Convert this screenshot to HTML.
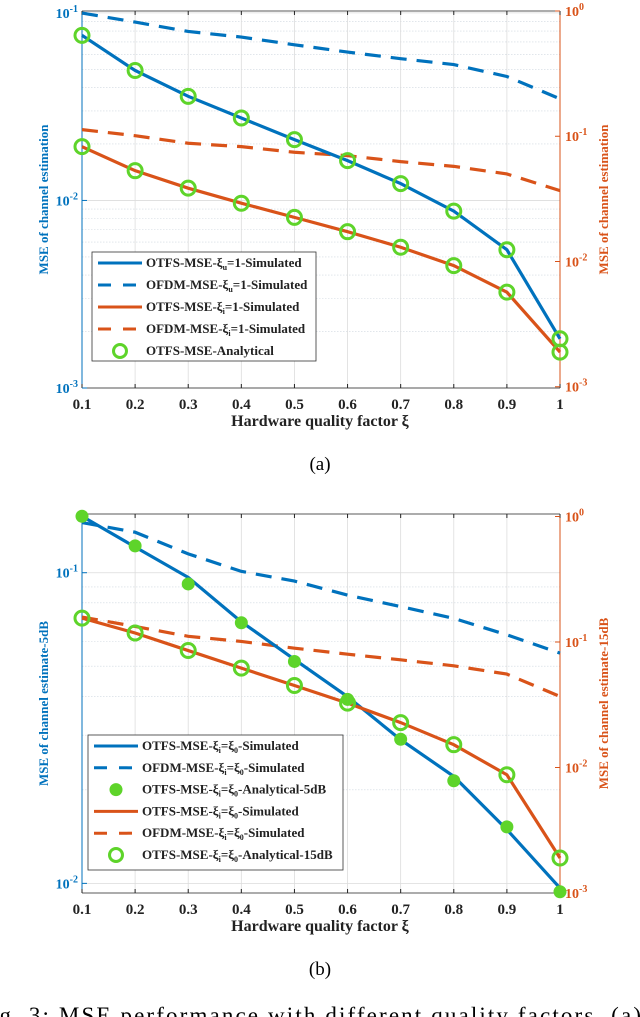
<!DOCTYPE html>
<html><head><meta charset="utf-8"><style>
body{margin:0;background:#fff;width:640px;height:1017px;overflow:hidden}
svg{display:block;font-family:"Liberation Serif",serif}
</style></head><body>
<svg id="s" width="640" height="1017" viewBox="0 0 640 1017">
<text x="320" y="470" font-size="19" text-anchor="middle">(a)</text>
<text x="320" y="975" font-size="19" text-anchor="middle">(b)</text>
<text x="-24" y="1023" font-size="23" textLength="665">Fig. 3: MSE performance with different quality factors. (a)</text>
</svg>
<script>
const xCats=[0.1,0.2,0.3,0.4,0.5,0.6,0.7,0.8,0.9,1];
const xTickLabels=["0.1","0.2","0.3","0.4","0.5","0.6","0.7","0.8","0.9","1"];
// chart (a)
const aOtfsU=[0.0759,0.0493,0.0359,0.0275,0.0211,0.0163,0.0123,0.00877,0.00546,0.00183];
const aOfdmU=[0.0998,0.0893,0.0796,0.0743,0.0676,0.0618,0.057,0.053,0.0458,0.0348];
const aOtfsI=[0.0826,0.0531,0.0385,0.0292,0.0225,0.0173,0.0130,0.00927,0.00569,0.00189];
const aOfdmI=[0.113,0.101,0.0879,0.0826,0.0745,0.070,0.0627,0.0575,0.050,0.0368];
// chart (b)
const bOtfs5=[0.152,0.121,0.0966,0.0695,0.0526,0.0399,0.029,0.0221,0.0149,0.00966];
const bAna5=[0.152,0.122,0.092,0.069,0.0518,0.0391,0.0291,0.0214,0.0152,0.0094];
const bOfdm5=[0.145,0.135,0.115,0.101,0.094,0.0847,0.0778,0.0713,0.0631,0.0551];
const bOtfs15=[0.155,0.118,0.0855,0.0619,0.045,0.0326,0.0228,0.0152,0.00875,0.0019];
const bOfdm15=[0.158,0.133,0.111,0.101,0.0893,0.080,0.0721,0.0646,0.0555,0.0368];

const NS="http://www.w3.org/2000/svg";
const svg=document.getElementById('s');
const BLUE="#0072BD",RED="#D95319",GREEN="#5ed42a";
function el(tag,attrs,parent){const e=document.createElementNS(NS,tag);for(const k in attrs)e.setAttribute(k,attrs[k]);(parent||svg).appendChild(e);return e;}

function chart(cfg){
  const g=el('g',{});
  
  
  const L=82,R=560,T=cfg.T,B=cfg.B;
  const xs=v=>L+(v-0.1)/0.9*(R-L);
  const yl=v=>T+(cfg.lMax-Math.log10(v))/(cfg.lMax-cfg.lMin)*(B-T);
  const yr=v=>T+(cfg.rMax-Math.log10(v))/(cfg.rMax-cfg.rMin)*(B-T);
  for(let d=Math.floor(cfg.lMin);d<=Math.ceil(cfg.lMax);d++){
    for(let m=1;m<10;m++){const lv=d+Math.log10(m);if(lv<cfg.lMin||lv>cfg.lMax)continue;const y=yl(Math.pow(10,lv));
      const gl=el('line',{x1:L,x2:R,y1:y,y2:y,stroke:m==1?'#dcdcdc':'#cfd8e0','stroke-width':m==1?0.8:0.6,'stroke-dasharray':m==1?'':'1.5,1.5'},g);
      }
  }
  xCats.forEach(v=>{const gl=el('line',{x1:xs(v),x2:xs(v),y1:T,y2:B,stroke:'#dcdcdc','stroke-width':0.8},g);
    });
  el('line',{x1:L,x2:R,y1:T,y2:T,stroke:'#222','stroke-width':0.8},g);
  el('line',{x1:L,x2:R,y1:B,y2:B,stroke:'#222','stroke-width':0.8},g);
  el('line',{x1:L,x2:L,y1:T,y2:B,stroke:BLUE,'stroke-width':1},g);
  el('line',{x1:R,x2:R,y1:T,y2:B,stroke:RED,'stroke-width':1},g);
  xCats.forEach((v,i)=>{el('line',{x1:xs(v),x2:xs(v),y1:B,y2:B-4,stroke:'#222'},g);el('line',{x1:xs(v),x2:xs(v),y1:T,y2:T+4,stroke:'#222'},g);
    const t=el('text',{x:xs(v),y:B+21,'font-size':15,'font-weight':'bold','text-anchor':'middle',fill:'#222'},g);t.textContent=xTickLabels[i];
    });
  for(let d=Math.ceil(cfg.lMin-0.05);d<=Math.floor(cfg.lMax+0.05);d++){const y=yl(Math.pow(10,d));
    el('line',{x1:L,x2:L+5,y1:y,y2:y,stroke:BLUE},g);
    const t=el('text',{x:L-4,y:y+5,'font-size':14,'font-weight':'bold','text-anchor':'end',fill:BLUE},g);
    
    t.innerHTML='10<tspan dy="-6" font-size="10">'+d+'</tspan>';}
  for(let d=Math.ceil(cfg.rMin-0.05);d<=Math.floor(cfg.rMax+0.05);d++){const y=yr(Math.pow(10,d));
    el('line',{x1:R,x2:R-5,y1:y,y2:y,stroke:RED},g);
    const t=el('text',{x:R+5,y:y+5,'font-size':14,'font-weight':'bold',fill:RED},g);
    
    t.innerHTML='10<tspan dy="-6" font-size="10">'+d+'</tspan>';}
  const my=(T+B)/2;
  let t=el('text',{x:0,y:0,transform:`translate(48,${my}) rotate(-90)`,'font-size':13,'font-weight':'bold','text-anchor':'middle',fill:BLUE},g);
  t.textContent=cfg.lTitle;
  t=el('text',{x:0,y:0,transform:`translate(608,${my}) rotate(-90)`,'font-size':13,'font-weight':'bold','text-anchor':'middle',fill:RED},g);
  t.textContent=cfg.rTitle;
  t=el('text',{x:320,y:B+38,'font-size':16,'font-weight':'bold','text-anchor':'middle',fill:'#222'},g);
  t.textContent='Hardware quality factor ξ';
  cfg.series.forEach(s=>{
    const ys=s.axis=='l'?yl:yr;
    if(s.type=='line'){
      const p=el('polyline',{points:s.data.map((v,i)=>xs(xCats[i])+','+ys(v)).join(' '),fill:'none',stroke:s.color,'stroke-width':3.2,'stroke-dasharray':s.dash?'16,10':''},g);
      
    }else{
      s.data.forEach((v,i)=>{const c=el('circle',{cx:xs(xCats[i]),cy:ys(v),r:s.filled?6:7,fill:s.filled?GREEN:'none',stroke:GREEN,'stroke-width':s.filled?1:3},g);
        });
    }
  });
  const lg=el('g',{},g);
  const lb=cfg.legend;
  el('rect',{x:lb.x,y:lb.y,width:lb.w,height:lb.h,fill:'#fff',stroke:'#333','stroke-width':0.8},lg);
  lb.items.forEach((it,i)=>{const y=lb.y+11+i*lb.step;
    const e=el('g',{},lg);
    if(it.kind=='line')el('line',{x1:lb.x+6,x2:lb.x+50,y1:y,y2:y,stroke:it.color,'stroke-width':3,'stroke-dasharray':it.dash?'13,12':''},e);
    else el('circle',{cx:lb.x+28,cy:y,r:it.filled?6:6.5,fill:it.filled?GREEN:'none',stroke:GREEN,'stroke-width':it.filled?1:3},e);
    const tx=el('text',{x:lb.x+54,y:y+4,'font-size':13,'font-weight':'bold',fill:'#222'},e);tx.innerHTML=it.label;});
}
const sub=s=>'<tspan dy="3" font-size="8">'+s+'</tspan><tspan dy="-3">';
chart({name:'chart-a',T:11,B:388,lMax:-0.99,lMin:-3,rMax:0.0,rMin:-3.01,
  lTitle:'MSE of channel estimation',rTitle:'MSE of channel estimation',
  series:[{type:'line',name:'ofdm-u-line',data:aOfdmU,axis:'l',color:BLUE,dash:1},
    {type:'line',name:'ofdm-i-line',data:aOfdmI,axis:'r',color:RED,dash:1},
    {type:'line',name:'otfs-u-line',data:aOtfsU,axis:'l',color:BLUE},
    {type:'line',name:'otfs-i-line',data:aOtfsI,axis:'r',color:RED},
    {type:'mark',name:'analytical-u',data:aOtfsU,axis:'l'},
    {type:'mark',name:'analytical-i',data:aOtfsI,axis:'r'}],
  legend:{x:92,y:252,w:224,h:109,step:22,items:[
    {kind:'line',color:BLUE,label:'OTFS-MSE-ξ'+sub('u')+'=1-Simulated</tspan>'},
    {kind:'line',color:BLUE,dash:1,label:'OFDM-MSE-ξ'+sub('u')+'=1-Simulated</tspan>'},
    {kind:'line',color:RED,label:'OTFS-MSE-ξ'+sub('i')+'=1-Simulated</tspan>'},
    {kind:'line',color:RED,dash:1,label:'OFDM-MSE-ξ'+sub('i')+'=1-Simulated</tspan>'},
    {kind:'mark',label:'OTFS-MSE-Analytical'}]}});
chart({name:'chart-b',T:514,B:893,lMax:-0.811,lMin:-2.031,rMax:0.02,rMin:-3.0,
  lTitle:'MSE of channel estimate-5dB',rTitle:'MSE of channel estimate-15dB',
  series:[{type:'line',name:'ofdm-5db-line',data:bOfdm5,axis:'l',color:BLUE,dash:1},
    {type:'line',name:'ofdm-15db-line',data:bOfdm15,axis:'r',color:RED,dash:1},
    {type:'line',name:'otfs-5db-line',data:bOtfs5,axis:'l',color:BLUE},
    {type:'line',name:'otfs-15db-line',data:bOtfs15,axis:'r',color:RED},
    {type:'mark',name:'analytical-5db',data:bAna5,axis:'l',filled:1},
    {type:'mark',name:'analytical-15db',data:bOtfs15,axis:'r'}],
  legend:{x:88,y:735,w:255,h:135,step:21.8,items:[
    {kind:'line',color:BLUE,label:'OTFS-MSE-ξ'+sub('i')+'=ξ'+sub('0')+'-Simulated</tspan></tspan>'},
    {kind:'line',color:BLUE,dash:1,label:'OFDM-MSE-ξ'+sub('i')+'=ξ'+sub('0')+'-Simulated</tspan></tspan>'},
    {kind:'mark',filled:1,label:'OTFS-MSE-ξ'+sub('i')+'=ξ'+sub('0')+'-Analytical-5dB</tspan></tspan>'},
    {kind:'line',color:RED,label:'OTFS-MSE-ξ'+sub('i')+'=ξ'+sub('0')+'-Simulated</tspan></tspan>'},
    {kind:'line',color:RED,dash:1,label:'OFDM-MSE-ξ'+sub('i')+'=ξ'+sub('0')+'-Simulated</tspan></tspan>'},
    {kind:'mark',label:'OTFS-MSE-ξ'+sub('i')+'=ξ'+sub('0')+'-Analytical-15dB</tspan></tspan>'}]}});
</script>
</body></html>
